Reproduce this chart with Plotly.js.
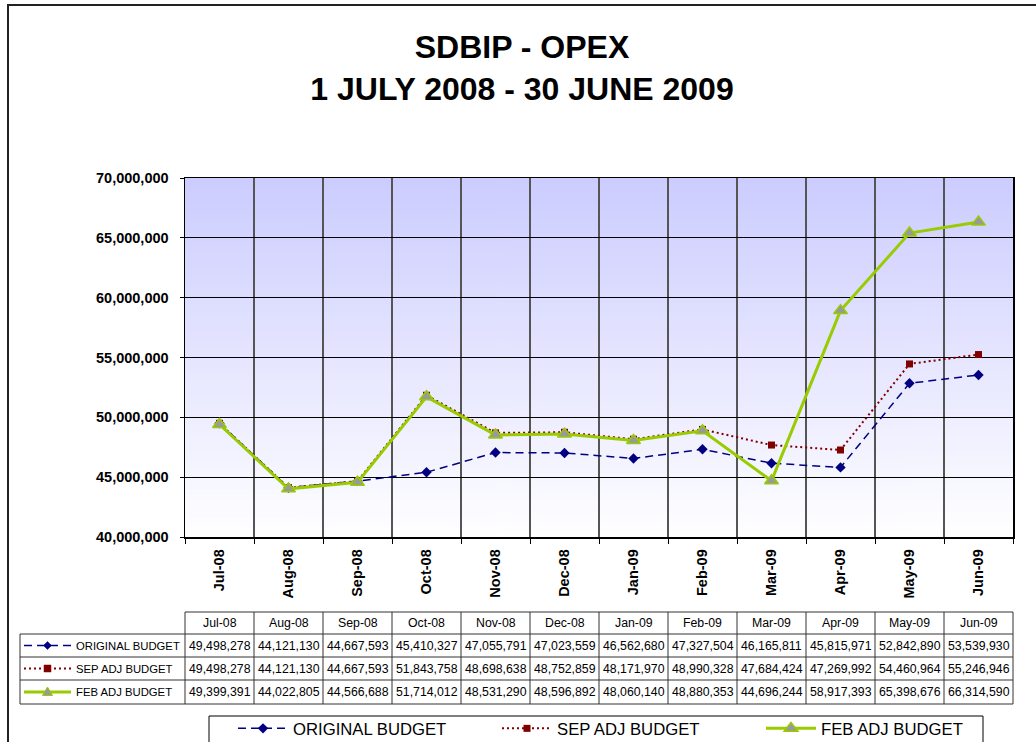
<!DOCTYPE html>
<html>
<head>
<meta charset="utf-8">
<script src="https://cdn.plot.ly/plotly-3.0.1.min.js"></script>
<style>
  html, body { margin: 0; padding: 0; background: #ffffff; }
  #chart { width: 1036px; height: 742px; }
</style>
</head>
<body>
<div id="chart"></div>
<script>
// ---------------- DATA ----------------
const categories = ['Jul-08', 'Aug-08', 'Sep-08', 'Oct-08', 'Nov-08', 'Dec-08',
                    'Jan-09', 'Feb-09', 'Mar-09', 'Apr-09', 'May-09', 'Jun-09'];
const originalBudget = [49498278, 44121130, 44667593, 45410327, 47055791, 47023559,
                        46562680, 47327504, 46165811, 45815971, 52842890, 53539930];
const sepAdjBudget   = [49498278, 44121130, 44667593, 51843758, 48698638, 48752859,
                        48171970, 48990328, 47684424, 47269992, 54460964, 55246946];
const febAdjBudget   = [49399391, 44022805, 44566688, 51714012, 48531290, 48596892,
                        48060140, 48880353, 44696244, 58917393, 65398676, 66314590];
const seriesNames = ['ORIGINAL BUDGET', 'SEP ADJ BUDGET', 'FEB ADJ BUDGET'];
const titleLines = ['SDBIP - OPEX', '1 JULY 2008 - 30 JUNE 2009'];
const yRange = [40000000, 70000000];
const yStep = 5000000;

// ---------------- LAYOUT HELPERS ----------------
const FIG_W = 1036, FIG_H = 742;
const M = { l: 185, r: 23, t: 178, b: 205 };
const PW = FIG_W - M.l - M.r, PH = FIG_H - M.t - M.b;
const px2x = px => (px - M.l) / PW;          // pixel -> paper x
const py2y = py => (M.t + PH - py) / PH;     // pixel -> paper y
const FONT = 'Arial, "Liberation Sans", Helvetica, sans-serif';

const NAVY = '#000080', MAROON = '#800000', GREEN = '#99CC00', GREY = '#999999';

const fmt = v => v.toLocaleString('en-US');

// background gradient image
const cv = document.createElement('canvas');
cv.width = 4; cv.height = 256;
const ctx = cv.getContext('2d');
const grad = ctx.createLinearGradient(0, 0, 0, 256);
grad.addColorStop(0, '#CCCCFF');
grad.addColorStop(1, '#FFFFFF');
ctx.fillStyle = grad;
ctx.fillRect(0, 0, 4, 256);
const bgSrc = cv.toDataURL('image/png');

// ---------------- TRACES ----------------
const traces = [
  {
    x: categories, y: originalBudget, name: seriesNames[0], type: 'scatter', mode: 'lines+markers',
    line: { color: NAVY, width: 1.5, dash: '8px,5px' },
    marker: { symbol: 'diamond', size: 8, color: NAVY }
  },
  {
    x: categories, y: sepAdjBudget, name: seriesNames[1], type: 'scatter', mode: 'lines+markers',
    line: { color: MAROON, width: 2, dash: '2px,3px' },
    marker: { symbol: 'square', size: 7, color: MAROON }
  },
  {
    x: categories, y: febAdjBudget, name: seriesNames[2], type: 'scatter', mode: 'lines+markers',
    line: { color: GREEN, width: 3 },
    marker: { symbol: 'triangle-up', size: 12, color: GREY, line: { color: GREEN, width: 1.5 } }
  }
];

// ---------------- TABLE (shapes + annotations) ----------------
const N = categories.length;
const rowsPx = [612, 634, 657, 680, 704];   // table row boundaries (header, 3 rows)
const labelLeftPx = 20;
const shapes = [];
const annotations = [];

// outer frame
shapes.push({ type: 'rect', xref: 'paper', yref: 'paper',
  x0: px2x(8), x1: px2x(1045), y0: py2y(750), y1: py2y(5),
  line: { color: '#222222', width: 2 }, layer: 'above' });

// legend frame
shapes.push({ type: 'rect', xref: 'paper', yref: 'paper',
  x0: px2x(209), x1: px2x(983), y0: py2y(760), y1: py2y(716),
  line: { color: '#000000', width: 1 }, fillcolor: 'rgba(0,0,0,0)', layer: 'above' });

// horizontal table lines
rowsPx.forEach((py, i) => {
  shapes.push({ type: 'line', xref: 'x domain', yref: 'paper',
    x0: i === 0 ? 0 : px2x(labelLeftPx), x1: 1, y0: py2y(py), y1: py2y(py),
    line: { color: '#333333', width: 1 } });
});
// vertical table lines at category boundaries
for (let i = 0; i <= N; i++) {
  shapes.push({ type: 'line', xref: 'x domain', yref: 'paper',
    x0: i / N, x1: i / N, y0: py2y(rowsPx[0]), y1: py2y(rowsPx[4]),
    line: { color: '#333333', width: 1 } });
}
// left border of label column
shapes.push({ type: 'line', xref: 'x domain', yref: 'paper',
  x0: px2x(labelLeftPx), x1: px2x(labelLeftPx), y0: py2y(rowsPx[1]), y1: py2y(rowsPx[4]),
  line: { color: '#333333', width: 1 } });

const cellFont = { family: FONT, size: 12.3, color: '#000000' };
const labelFont = { family: FONT, size: 11.3, color: '#000000' };
const rowCenter = i => py2y((rowsPx[i] + rowsPx[i + 1]) / 2);

// header row
categories.forEach(c => {
  annotations.push({ x: c, xref: 'x', y: rowCenter(0), yref: 'paper', text: c,
    showarrow: false, font: cellFont, xanchor: 'center', yanchor: 'middle' });
});
// value rows
[originalBudget, sepAdjBudget, febAdjBudget].forEach((arr, r) => {
  arr.forEach((v, j) => {
    annotations.push({ x: categories[j], xref: 'x', y: rowCenter(r + 1), yref: 'paper', text: fmt(v),
      showarrow: false, font: cellFont, xanchor: 'center', yanchor: 'middle' });
  });
  annotations.push({ x: px2x(74), xref: 'paper', y: rowCenter(r + 1), yref: 'paper',
    text: seriesNames[r], showarrow: false, font: labelFont, xanchor: 'left', yanchor: 'middle' });
});

// row label legend symbols
const symLine = (r, color, width, dash) => shapes.push({ type: 'line', xref: 'paper', yref: 'paper',
  x0: px2x(24), x1: px2x(71), y0: rowCenter(r), y1: rowCenter(r), line: { color, width, dash } });
symLine(1, NAVY, 1.5, '8px,5px');
symLine(2, MAROON, 2, '2px,3px');
symLine(3, GREEN, 3, 'solid');
const pixPath = (r, path, fill, lineColor, lw) => shapes.push({ type: 'path',
  xref: 'paper', yref: 'paper', xsizemode: 'pixel', ysizemode: 'pixel',
  xanchor: px2x(47.5), yanchor: rowCenter(r), path,
  fillcolor: fill, line: { color: lineColor, width: lw } });
pixPath(1, 'M0,4L4,0L0,-4L-4,0Z', NAVY, NAVY, 0.5);
pixPath(2, 'M-3.5,3.5L3.5,3.5L3.5,-3.5L-3.5,-3.5Z', MAROON, MAROON, 0.5);
pixPath(3, 'M0,5L5,-3.5L-5,-3.5Z', GREY, GREEN, 1);

// ---------------- LAYOUT ----------------
const layout = {
  width: FIG_W, height: FIG_H,
  margin: { l: M.l, r: M.r, t: M.t, b: M.b, autoexpand: false },
  paper_bgcolor: '#ffffff',
  plot_bgcolor: '#ffffff',
  font: { family: FONT, color: '#000000' },
  title: {
    text: titleLines.join('<br>'),
    font: { family: FONT, size: 32, weight: 'bold', color: '#000000' },
    x: 522 / FIG_W, xref: 'container', xanchor: 'center',
    y: 1 - 58 / FIG_H, yref: 'container', yanchor: 'top'
  },
  showlegend: true,
  legend: {
    orientation: 'h', x: px2x(233), y: py2y(711), xanchor: 'left', yanchor: 'top',
    xref: 'paper', yref: 'paper',
    bordercolor: 'rgba(0,0,0,0)', borderwidth: 0, bgcolor: 'rgba(0,0,0,0)',
    font: { family: FONT, size: 16.7, color: '#000000' },
    entrywidth: 199, entrywidthmode: 'pixels', itemwidth: 50,
    traceorder: 'normal'
  },
  xaxis: {
    type: 'category', categoryorder: 'array', categoryarray: categories,
    range: [-0.5, N - 0.5],
    tickson: 'boundaries', ticks: 'outside', ticklen: 5, tickcolor: '#000000',
    showgrid: true, gridcolor: '#555555', gridwidth: 1.5,
    showline: true, linecolor: '#000000', linewidth: 1.5, mirror: true,
    tickangle: -90,
    tickfont: { family: FONT, size: 14.5, weight: 'bold', color: '#000000' },
    ticklabelstandoff: 5,
    zeroline: false, fixedrange: true
  },
  yaxis: {
    range: yRange, dtick: yStep, tick0: 0, tickformat: ',d',
    ticks: 'outside', ticklen: 4, tickcolor: '#000000',
    showgrid: true, gridcolor: '#000000', gridwidth: 1,
    showline: true, linecolor: '#000000', linewidth: 1.5, mirror: true,
    tickfont: { family: FONT, size: 14.5, weight: 'bold', color: '#000000' },
    ticklabelstandoff: 8,
    zeroline: false, fixedrange: true
  },
  images: [{
    source: bgSrc, xref: 'x', yref: 'y', x: -0.5, y: yRange[1],
    sizex: N, sizey: yRange[1] - yRange[0], sizing: 'stretch',
    xanchor: 'left', yanchor: 'top', layer: 'below'
  }],
  shapes, annotations
};

Plotly.newPlot('chart', traces, layout, { displayModeBar: false, staticPlot: true });
</script>
</body>
</html>
